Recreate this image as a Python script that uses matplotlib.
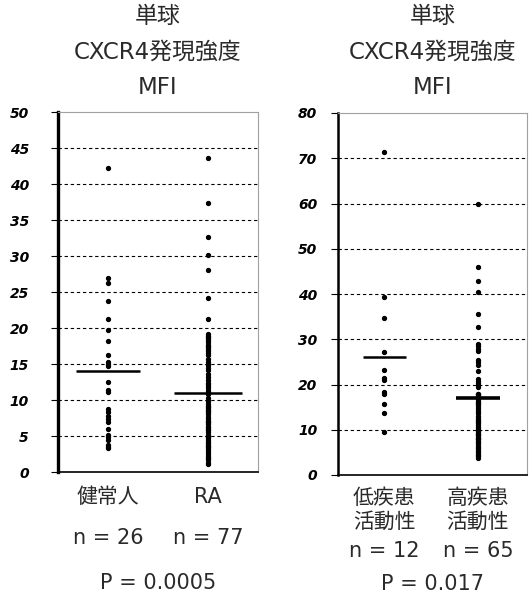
import matplotlib
matplotlib.use("Agg")
import matplotlib.pyplot as plt
import numpy as np

FAM = ['DejaVu Sans', 'Noto Sans CJK JP']
plt.rcParams['font.family'] = FAM

# ---- data ----
left_title = "単球\nCXCR4発現強度\nMFI"
right_title = "単球\nCXCR4発現強度\nMFI"

left_cats = ["健常人", "RA"]
left_n = ["n = 26", "n = 77"]
left_p = "P = 0.0005"
healthy = [42.2, 27.0, 26.3, 23.8, 21.3, 19.7, 18.2, 16.2, 15.3, 15.0, 14.7, 12.5,
           11.4, 11.1, 8.8, 8.3, 7.8, 7.4, 6.9, 6.0, 5.2, 4.9, 4.5, 3.8, 3.5, 3.3]
ra = [43.6, 37.3, 32.7, 30.2, 28.0, 24.1, 21.2,
      19.2, 18.9, 18.8, 18.6, 18.3, 18.0, 17.7, 17.5, 17.4, 17.1, 16.8, 16.5, 16.2,
      15.7, 15.3, 14.8, 14.5, 14.2, 13.6, 13.2, 12.8, 12.4, 12.2, 12.0, 11.6, 11.3,
      11.1, 11.0, 10.8, 10.3, 9.8, 9.5, 9.2, 9.0, 8.9, 8.6, 8.5, 8.3, 8.0, 7.7, 7.4,
      7.1, 7.0, 6.9, 6.6, 6.3, 6.2, 6.0, 5.8, 5.5, 5.2, 5.0, 4.9, 4.7, 4.4, 4.1,
      4.0, 3.8, 3.6, 3.5, 3.3, 3.0, 2.8, 2.5, 2.2, 2.0, 1.9, 1.6, 1.3, 1.1]
left_means = [14.0, 11.0]
left_ticks = [0, 5, 10, 15, 20, 25, 30, 35, 40, 45, 50]

right_cats = ["低疾患\n活動性", "高疾患\n活動性"]
right_n = ["n = 12", "n = 65"]
right_p = "P = 0.017"
low_act = [71.4, 39.4, 34.6, 27.2, 23.1, 21.5, 20.9, 18.3, 17.8, 15.6, 13.7, 9.5]
high_act = [60.0, 45.9, 42.8, 40.4, 35.6, 32.7, 29.0, 28.5, 27.8, 27.3, 25.5, 25.0,
            24.4, 23.0, 21.2, 20.8, 20.3, 19.8, 19.4, 18.0, 17.9, 17.6, 17.2, 16.8,
            16.4, 16.2, 16.0, 15.6, 15.2, 14.8, 14.4, 14.0, 13.6, 13.0, 12.6, 12.2,
            12.0, 11.8, 11.4, 11.0, 10.6, 10.3, 10.0, 9.7, 9.4, 9.1, 9.0, 8.8, 8.5,
            8.2, 8.0, 7.9, 7.6, 7.3, 7.0, 6.6, 6.2, 6.0, 5.8, 5.4, 5.0, 4.6, 4.4,
            4.2, 3.8]
right_means = [26.0, 17.0]
right_ticks = [0, 10, 20, 30, 40, 50, 60, 70, 80]

W, H = 530, 597
TXT = '#2a2a2a'
FS = 15
fig = plt.figure(figsize=(W / 100, H / 100), dpi=100)

def px_axes(x0, x1, ytop, ybot):
    return fig.add_axes([x0 / W, (H - ybot) / H, (x1 - x0) / W, (ybot - ytop) / H])

def yfrac(ax, ypix):
    bb = ax.get_position()
    return ((H - ypix) / H - bb.y0) / bb.height

def style_panel(ax, ticks, ymax, spine_w, pad):
    ax.set_xlim(0, 2)
    ax.set_ylim(0, ymax)
    ax.set_yticks(ticks)
    ax.set_yticklabels([str(t) for t in ticks], fontstyle='italic', fontweight='bold',
                       family='DejaVu Sans', fontsize=10)
    ax.tick_params(axis='y', length=5, width=0.8, pad=pad, direction='out')
    for t in ticks[1:-1]:
        ax.axhline(t, color='black', lw=0.8, ls=(0, (3, 2.5)), zorder=1)
    ax.spines['left'].set_linewidth(spine_w)
    ax.spines['bottom'].set_linewidth(1.2)
    for s in ('top', 'right'):
        ax.spines[s].set_color('#a0a0a0')
        ax.spines[s].set_linewidth(0.8)
    ax.set_xticks([])

def draw_group(ax, xpos, vals, mean, half, lw):
    ax.plot([xpos] * len(vals), vals, 'o', color='black', ms=2.8, zorder=3)
    ax.plot([xpos - half, xpos + half], [mean, mean], color='black', lw=lw,
            solid_capstyle='butt', zorder=4)

# Left panel
axL = px_axes(58, 258, 112, 472)
style_panel(axL, left_ticks, 50, 2.4, 16)
xl = [0.5, 1.5]
draw_group(axL, xl[0], healthy, left_means[0], 0.32, 1.8)
draw_group(axL, xl[1], ra, left_means[1], 0.34, 1.8)
for x, c, n in zip(xl, left_cats, left_n):
    axL.text(x, yfrac(axL, 497), c, transform=axL.get_xaxis_transform(), ha='center',
             va='center', fontsize=FS, color=TXT)
    axL.text(x, yfrac(axL, 538), n, transform=axL.get_xaxis_transform(), ha='center',
             va='center', fontsize=FS, color=TXT)
axL.text(1.0, yfrac(axL, 583), left_p, transform=axL.get_xaxis_transform(), ha='center',
         va='center', fontsize=FS, color=TXT)

# Right panel
axR = px_axes(338, 527, 113, 475)
style_panel(axR, right_ticks, 80, 1.8, 10)
xr = [0.49, 1.48]
draw_group(axR, xr[0], low_act, right_means[0], 0.23, 1.8)
draw_group(axR, xr[1], high_act, right_means[1], 0.23, 2.6)
for x, c, n in zip(xr, right_cats, right_n):
    axR.text(x, yfrac(axR, 510), c, transform=axR.get_xaxis_transform(), ha='center',
             va='center', fontsize=FS, color=TXT, linespacing=1.25)
    axR.text(x, yfrac(axR, 551), n, transform=axR.get_xaxis_transform(), ha='center',
             va='center', fontsize=FS, color=TXT)
axR.text(1.0, yfrac(axR, 584), right_p, transform=axR.get_xaxis_transform(), ha='center',
         va='center', fontsize=FS, color=TXT)

# Titles
for cx, t in ((158, left_title), (433, right_title)):
    fig.text(cx / W, 1 - 52 / H, t, ha='center', va='center', fontsize=16.5,
             color=TXT, linespacing=1.72)

fig.savefig("out.png", dpi=100)
